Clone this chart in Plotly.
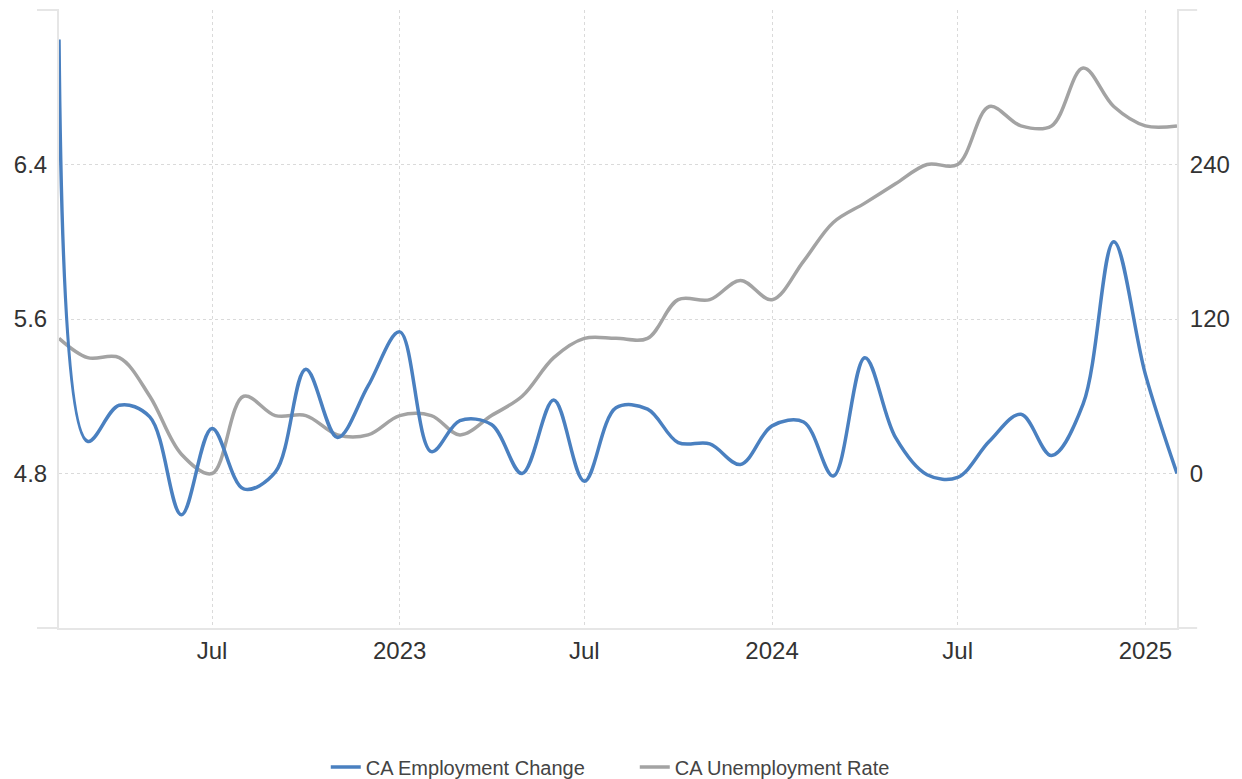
import plotly.graph_objects as go

months = [
    "2022-02-01", "2022-03-01", "2022-04-01", "2022-05-01", "2022-06-01", "2022-07-01",
    "2022-08-01", "2022-09-01", "2022-10-01", "2022-11-01", "2022-12-01",
    "2023-01-01", "2023-02-01", "2023-03-01", "2023-04-01", "2023-05-01", "2023-06-01",
    "2023-07-01", "2023-08-01", "2023-09-01", "2023-10-01", "2023-11-01", "2023-12-01",
    "2024-01-01", "2024-02-01", "2024-03-01", "2024-04-01", "2024-05-01", "2024-06-01",
    "2024-07-01", "2024-08-01", "2024-09-01", "2024-10-01", "2024-11-01", "2024-12-01",
    "2025-01-01", "2025-02-01",
]

employment_change = [
    337, 25, 53, 44, -32, 35,
    -12, 1, 81, 28, 68,
    110, 17, 41, 38, 0, 57,
    -6, 51, 50, 24, 23, 7,
    37, 40, -2, 90, 28, -1,
    -3, 25, 46, 14, 54, 180,
    77, 0,
]

unemployment_rate = [
    5.5, 5.4, 5.4, 5.2, 4.9, 4.8,
    5.2, 5.1, 5.1, 5.0, 5.0,
    5.1, 5.1, 5.0, 5.1, 5.2, 5.4,
    5.5, 5.5, 5.5, 5.7, 5.7, 5.8,
    5.7, 5.9, 6.1, 6.2, 6.3, 6.4,
    6.4, 6.7, 6.6, 6.6, 6.9, 6.7,
    6.6, 6.6,
]

x_tick_vals = ["2022-07-01", "2023-01-01", "2023-07-01", "2024-01-01", "2024-07-01", "2025-01-01"]
x_tick_text = ["Jul", "2023", "Jul", "2024", "Jul", "2025"]

left_tick_vals = [4.0, 4.8, 5.6, 6.4, 7.2]
left_tick_text = ["", "4.8", "5.6", "6.4", ""]
right_tick_vals = [-120, 0, 120, 240, 360]
right_tick_text = ["", "0", "120", "240", ""]

BLUE = "#4a80c0"
GRAY = "#a3a3a3"
AXIS = "#e6e6e6"
GRID = "#dadada"
TEXT = "#333333"
FONT = "Liberation Sans, Arial, sans-serif"

fig = go.Figure()
fig.add_trace(go.Scatter(
    x=months, y=employment_change, name="CA Employment Change",
    mode="lines", line=dict(color=BLUE, width=3.5, shape="spline", smoothing=1.0),
    yaxis="y2",
))
fig.add_trace(go.Scatter(
    x=months, y=unemployment_rate, name="CA Unemployment Rate",
    mode="lines", line=dict(color=GRAY, width=3.5, shape="spline", smoothing=1.0),
    yaxis="y",
))

fig.update_layout(
    width=1242, height=779,
    margin=dict(l=59, r=65, t=10, b=151, autoexpand=False),
    paper_bgcolor="white", plot_bgcolor="white",
    font=dict(family=FONT, color=TEXT),
    showlegend=True,
    legend=dict(
        orientation="h", x=0.515, xanchor="center",
        yref="container", y=0.0154, yanchor="middle",
        font=dict(size=20, color="#444444", family=FONT),
        entrywidth=264, itemwidth=30,
    ),
    xaxis=dict(
        type="date", range=["2022-02-01", "2025-02-01"],
        tickvals=x_tick_vals, ticktext=x_tick_text,
        tickfont=dict(size=24, color=TEXT),
        showgrid=True, gridcolor=GRID, griddash="dot", gridwidth=1,
        showline=True, linecolor=AXIS, linewidth=2,
        ticks="", zeroline=False,
    ),
    yaxis=dict(
        range=[4.0, 7.2], tickvals=left_tick_vals, ticktext=left_tick_text,
        tickfont=dict(size=24, color=TEXT),
        showgrid=True, gridcolor=GRID, griddash="dot", gridwidth=1,
        showline=True, linecolor=AXIS, linewidth=2,
        ticks="outside", ticklen=5, tickcolor="rgba(0,0,0,0)",
        zeroline=False,
    ),
    yaxis2=dict(
        range=[-120, 360], tickvals=right_tick_vals, ticktext=right_tick_text,
        overlaying="y", side="right",
        tickfont=dict(size=24, color=TEXT),
        showgrid=False,
        showline=True, linecolor=AXIS, linewidth=2,
        ticks="outside", ticklen=6, tickcolor="rgba(0,0,0,0)",
        zeroline=False,
    ),
    shapes=[
        dict(type="line", xref="paper", yref="paper", x0=-0.0197, x1=0, y0=0, y1=0,
             line=dict(color=AXIS, width=2)),
        dict(type="line", xref="paper", yref="paper", x0=-0.0197, x1=0, y0=1, y1=1,
             line=dict(color=AXIS, width=2)),
        dict(type="line", xref="paper", yref="paper", x0=1, x1=1.018, y0=0, y1=0,
             line=dict(color=AXIS, width=2)),
        dict(type="line", xref="paper", yref="paper", x0=1, x1=1.018, y0=1, y1=1,
             line=dict(color=AXIS, width=2)),
    ],
)

fig.write_html(
    "out.html",
    config={"displayModeBar": False},
    post_script="document.body.style.margin='0';document.body.style.overflow='hidden';",
)
